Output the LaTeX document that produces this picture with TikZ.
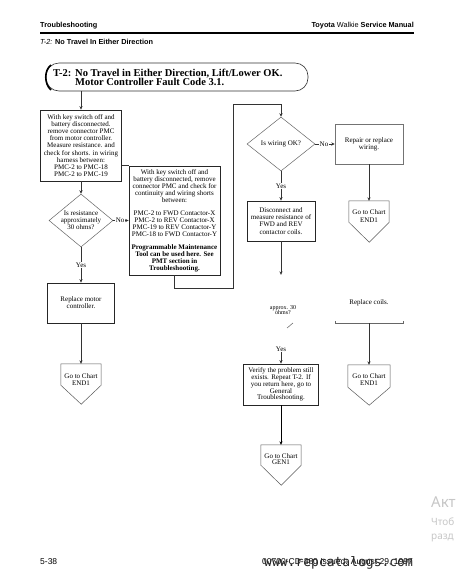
\documentclass[tikz,border=0pt]{standalone}
\usepackage{fontspec}
\setmainfont{Liberation Serif}
\newfontfamily\hdrfont{Liberation Sans}
\newfontfamily\wmfont{Noto Sans}
\newfontfamily\wwwfont{DejaVu Sans Mono}
\usetikzlibrary{arrows.meta,shapes.geometric,calc}
\begin{document}
\begin{tikzpicture}[x=1pt,y=-1pt,
  txt/.style={font=\fontsize{7}{7.2}\selectfont, align=center, inner sep=0pt, text=black},
  box/.style={draw=black!85, line width=0.8pt, txt},
  thinbox/.style={draw=black!55, line width=0.5pt, txt},
  dia/.style={diamond, draw=black!60, line width=0.5pt, inner sep=0pt},
  ghost/.style={inner sep=0pt, draw=none},
  penta/.style={draw=black!65, line width=0.5pt, line join=miter},
  conn/.style={draw=black!80, line width=0.6pt},
  arr/.style={conn, -{Stealth[length=3.5pt,width=3.2pt]}},
  lbl/.style={txt, fill=white, inner sep=0.8pt},
  hdr/.style={font=\hdrfont\bfseries\fontsize{7.3}{8}\selectfont, inner sep=0pt},
  ttl/.style={font=\bfseries\fontsize{10.5}{10}\selectfont, inner sep=0pt, anchor=base west},
  foot/.style={font=\hdrfont\fontsize{8.5}{9}\selectfont, inner sep=0pt},
  winwm/.style={font=\wmfont, text=black!22, inner sep=0pt, anchor=base west}
]
\fill[white] (0,0) rectangle (460,582);
\useasboundingbox (0,0) rectangle (460,582);

% header
\node[hdr, anchor=base west] (hL) at (40,27.5) {Troubleshooting};
\node[hdr, anchor=base east] (hR) at (414,27.5) {Toyota {\mdseries Walkie} Service Manual};
\draw[line width=1.1pt] (40,33) -- (414,33);
\node[hdr, anchor=base west] (hT) at (40,44.5) {{\mdseries\itshape T-2:} No Travel In Either Direction};

% title
\node[draw=black!80, line width=0.6pt, rounded corners=13pt, minimum width=262pt, minimum height=28pt, inner sep=0pt] (title) at (177,77) {};
\draw[line width=1.6pt] (51,65) .. controls (44,70) and (44,84) .. (51,90);
\node[ttl] (tk) at (53,76.5) {T-2:};
\node[ttl] (tt1) at (75,76.5) {No Travel in Either Direction, Lift/Lower OK.};
\node[ttl] (tt2) at (75,85.5) {Motor Controller Fault Code 3.1.};

% left column
\node[box, minimum width=81pt, minimum height=71pt] (b1) at (81,145.5)
  {With key switch off and\\battery disconnected.\\remove connector PMC\\from motor controller.\\Measure resistance. and\\check for shorts. in wiring\\harness between:\\PMC-2 to PMC-18\\PMC-2 to PMC-19};
\draw[arr] (title.south -| b1.north) -- (b1.north);

\node[box, font=\fontsize{7}{7}\selectfont, minimum width=91pt, minimum height=109pt] (b2) at (174.5,220.5)
  {With key switch off and\\battery disconnected, remove\\connector PMC and check for\\continuity and wiring shorts\\between:\\[6pt]PMC-2 to FWD Contactor-X\\PMC-2 to REV Contactor-X\\PMC-19 to REV Contactor-Y\\PMC-18 to FWD Contactor-Y\\[6pt]\textbf{Programmable Maintenance}\\\textbf{Tool can be used here. See}\\\textbf{PMT section in}\\\textbf{Troubleshooting.}};
\draw[conn] (b2.north west) -- (b2.north west -| b1.east);

\node[dia, minimum width=64pt, minimum height=53pt] (d1) at (81,220.5) {};
\node[txt] (d1t) at (81,220.5) {Is resistance\\approximately\\30 ohms?};
\draw[arr, line width=0.8pt] (b1.south) -- (d1.north);
\draw[arr] (d1.east) -- node[lbl, pos=0.45] {No} (b2.west);

\node[box, minimum width=67pt, minimum height=40pt] (b3) at (81,303) {Replace motor\\controller.};
\draw[arr] (d1.south) -- node[lbl] {Yes} (b3.north);

\node[ghost, minimum width=40pt, minimum height=21pt] (e1) at (81,374.5) {};
\draw[penta] (e1.south west) -- (e1.north west) -- (e1.north east) -- (e1.south east) -- ++(-20,19) -- cycle;
\node[txt] (e1t) at (81,379.5) {Go to Chart\\END1};
\draw[arr] (b3.south) -- (e1.north);

% route to right column
\coordinate (r1) at (233,288);
\coordinate (r2) at (233,104);
\node[dia, minimum width=68pt, minimum height=54pt] (d2) at (281,144) {};
\node[txt] (d2t) at (281,144) {Is wiring OK?};
\draw[arr] (b2.south) |- (r1) -- (r2) -| (d2.north);

\node[thinbox, minimum width=68pt, minimum height=40pt] (b4) at (369,144) {Repair or replace\\wiring.};
\draw[arr] (d2.east) -- node[lbl, pos=0.45] {No} (b4.west);

\node[ghost, minimum width=40pt, minimum height=21pt] (e2) at (369,211.5) {};
\draw[penta] (e2.south west) -- (e2.north west) -- (e2.north east) -- (e2.south east) -- ++(-20,20) -- cycle;
\node[txt] (e2t) at (369,216) {Go to Chart\\END1};
\draw[arr] (b4.south) -- (e2.north);

\node[box, minimum width=68pt, minimum height=40pt] (b5) at (281,221) {Disconnect and\\measure resistance of\\FWD and REV\\contactor coils.};
\draw[arr] (d2.south) -- node[lbl] {Yes} (b5.north);

\node[ghost, diamond, minimum width=68pt, minimum height=58pt] (d3) at (281,304) {};
\node[txt, font=\fontsize{6}{5.5}\selectfont] (d3t) at (283,310) {approx. 30\\ohms?};
\draw[arr] (b5.south) -- (d3.north);
\draw[conn, draw=black!55] ($(d3.east)!0.65!(d3.south)$) -- ($(d3.east)!0.82!(d3.south)$);

\node[lbl] (y3) at (281,349) {Yes};
\node[box, font=\fontsize{7}{6.8}\selectfont, minimum width=75pt, minimum height=41pt] (b7) at (281,384.5) {Verify the problem still\\exists. Repeat T-2. If\\you return here, go to\\General\\Troubleshooting.};
\draw[arr] (y3.south) -- (y3.south |- b7.north);

\node[ghost, txt, minimum width=68pt, minimum height=40pt] (b6) at (369,303) {Replace coils.};
\draw[conn, draw=black!60] ([yshift=2pt]b6.south west) -- (b6.south west) -- (b6.south east) -- ([yshift=2pt]b6.south east);

\node[ghost, minimum width=42pt, minimum height=22pt] (e3) at (369,376) {};
\draw[penta] (e3.south west) -- (e3.north west) -- (e3.north east) -- (e3.south east) -- ++(-21,18) -- cycle;
\node[txt] (e3t) at (369,379.5) {Go to Chart\\END1};
\draw[arr] (b6.south) -- (e3.north);

\node[ghost, minimum width=40pt, minimum height=20pt] (e4) at (281,455) {};
\draw[penta] (e4.south west) -- (e4.north west) -- (e4.north east) -- (e4.south east) -- ++(-20,20) -- cycle;
\node[txt, font=\fontsize{7}{6.6}\selectfont] (e4t) at (281,459) {Go to Chart\\GEN1};
\draw[arr, line width=0.9pt, draw=black] (b7.south) -- (e4.north);

% footer
\node[foot, anchor=base west] (f1) at (40,564) {5-38};
\node[foot, anchor=base east] (f2) at (413,564) {00700-CD-380 Issued: August 29, 1997};
\node[font=\wwwfont\fontsize{13}{13}\selectfont, anchor=base west, inner sep=0pt, text=black!85] (f3) at (264,566) {www.repcatalogs.com};

% screen watermark
\node[winwm, font=\wmfont\fontsize{15}{15}\selectfont] (w1) at (431,507) {Акт};
\node[winwm, font=\wmfont\fontsize{10}{10}\selectfont] (w2) at (431,525) {Чтоб};
\node[winwm, font=\wmfont\fontsize{10}{10}\selectfont] (w3) at (431,539) {разд};
\end{tikzpicture}
\end{document}
